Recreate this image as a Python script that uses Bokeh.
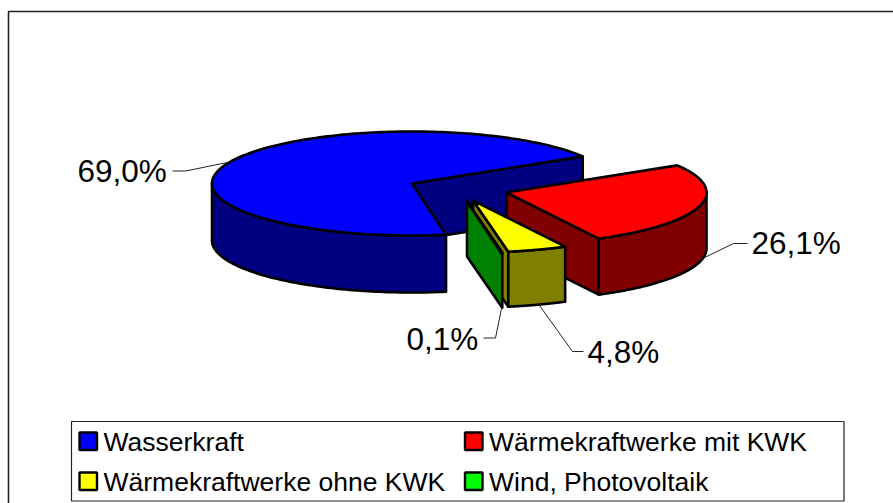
import numpy as np
from bokeh.plotting import figure
from bokeh.models import Range1d
from bokeh.core.properties import value
from bokeh.embed import file_html
from bokeh.resources import INLINE

categories = ["Wasserkraft", "Wärmekraftwerke mit KWK", "Wärmekraftwerke ohne KWK", "Wind, Photovoltaik"]
shares = [69.0, 26.1, 4.8, 0.1]
labels = ["69,0%", "26,1%", "4,8%", "0,1%"]
top_colors = ["#0000FF", "#FF0000", "#FFFF00", "#00FF00"]
side_colors = ["#000080", "#800000", "#808000", "#008000"]

W, H = 893, 503
RX, RY = 200, 52
depth = [57, 56, 55, 55]
START = 170.2
apex_x = [411.5, 506, 472.5, 466.5]
apex_y = [183, 192, 200, 201]

p = figure(width=W, height=H, x_range=Range1d(0, W), y_range=Range1d(H, 0),
           output_backend="svg", toolbar_location=None, min_border=0,
           outline_line_color=None, background_fill_color="white", border_fill_color="white")
p.xaxis.visible = False
p.yaxis.visible = False
p.xgrid.visible = False
p.ygrid.visible = False


def rim(cx, cy, t0, t1, n=90, dz=0.0):
    t = np.radians(np.linspace(t0, t1, n))
    return cx + RX * np.sin(t), cy - RY * np.cos(t) + dz


def poly(xs, ys, fill):
    p.patch(list(xs), list(ys), fill_color=fill, line_color="black", line_width=2.6, line_join="round")


ext = []
a = START
for s in shares:
    ext.append((a, a + s * 3.6))
    a += s * 3.6


def cut_face(i, t):
    cx, cy = apex_x[i], apex_y[i]
    ox, oy = rim(cx, cy, t, t, 1)
    poly([cx, ox[0], ox[0], cx], [cy, oy[0], oy[0] + depth[i], cy + depth[i]], side_colors[i])


def wall(i, t0, t1):
    x0, y0 = rim(apex_x[i], apex_y[i], t0, t1)
    x1, y1 = rim(apex_x[i], apex_y[i], t1, t0, dz=depth[i])
    poly(np.r_[x0, x1], np.r_[y0, y1], side_colors[i])


def top(i):
    t0, t1 = ext[i]
    x, y = rim(apex_x[i], apex_y[i], t0, t1, n=200)
    poly(np.r_[apex_x[i], x], np.r_[apex_y[i], y], top_colors[i])


cut_face(0, ext[0][1])
wall(0, ext[0][0], 270)
top(0)
cut_face(1, ext[1][1])
wall(1, ext[1][0] + 31, ext[1][1])
top(1)
cut_face(2, ext[2][1])
wall(2, ext[2][0], ext[2][1])
top(2)
cut_face(3, ext[3][0])
top(3)

p.line([8, 8, 893], [503, 11, 11], line_color="#222222", line_width=1.6)

leader_x = [[172, 185, 227], [747, 733, 700], [583, 572, 539], [483, 495, 501]]
leader_y = [[170.5, 170.5, 162], [243, 243, 259], [351, 351, 305], [337.5, 337.5, 308]]
for lx, ly in zip(leader_x, leader_y):
    p.line(lx, ly, line_color="#222222", line_width=1)

label_x = [77, 751, 587, 406]
label_y = [170.5, 242.5, 351, 338]
p.text(label_x, label_y, text=labels, text_font=value("Liberation Sans"), text_font_size="31.5px",
       text_color="black", text_align="left", text_baseline="middle")

p.quad(left=[71], right=[843.5], top=[421], bottom=[500.5], fill_color="white", line_color="#222222", line_width=1.2)
sw_x = [79, 464.5, 79, 464.5]
sw_y = [432, 432, 472, 472]
for x, y, col, name in zip(sw_x, sw_y, top_colors, categories):
    p.quad(left=[x], right=[x + 17.5], top=[y], bottom=[y + 17.5], fill_color=col, line_color="black", line_width=2.4)
    p.text([x + 24], [y + 9], text=[name], text_font=value("Liberation Sans"), text_font_size="26.5px",
           text_color="black", text_align="left", text_baseline="middle")

open("out.html", "w").write(file_html(p, INLINE))
